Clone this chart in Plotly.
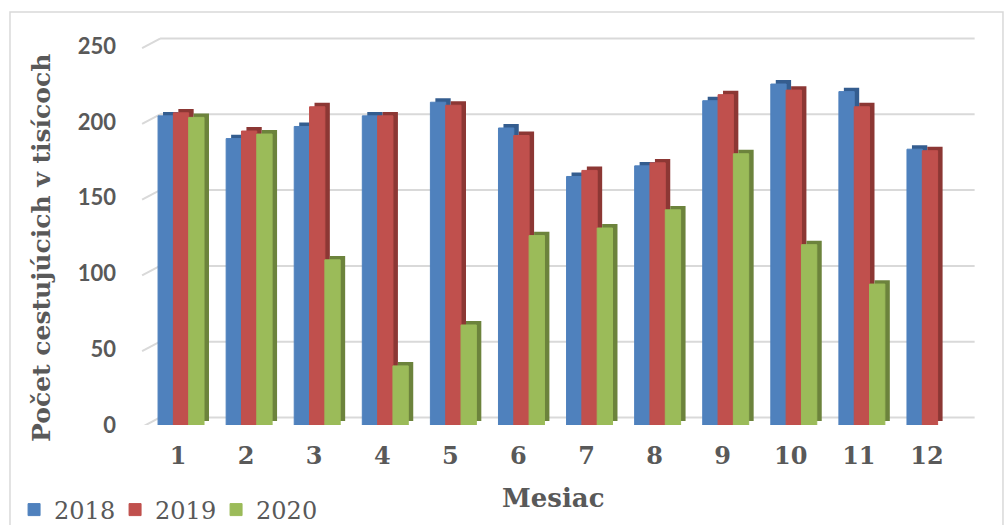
import plotly.graph_objects as go

# Passengers per month, in thousands
months = ["1", "2", "3", "4", "5", "6", "7", "8", "9", "10", "11", "12"]
years = ["2018", "2019", "2020"]
values_2018 = [204, 189, 197, 204, 213, 196, 164, 171, 214, 225, 220, 182]
values_2019 = [206, 194, 210, 204, 211, 191, 168, 173, 218, 221, 210, 181]
values_2020 = [203, 192, 109, 39, 66, 125, 130, 142, 179, 119, 93, None]
y_ticks = [0, 50, 100, 150, 200, 250]

series = [values_2018, values_2019, values_2020]
front_colors = ["#4f81bd", "#c0504d", "#9bbb59"]
side_colors = ["#345d8f", "#8c3734", "#6c833c"]

BAR_W = 0.225          # bar width in category units
DEPTH_X = 0.073        # horizontal depth of the pseudo-3D side face
DEPTH_Y = 2.6          # vertical depth of the top face (data units)
TEXT = "#595959"
GRID = "#d9d9d9"

fig = go.Figure()

# darker "depth" bars drawn first, shifted up and right
for i, vals in enumerate(series):
    off = -1.5 * BAR_W + i * BAR_W
    fig.add_trace(go.Bar(
        x=months, y=vals, base=DEPTH_Y, offset=off + DEPTH_X, width=BAR_W,
        marker=dict(color=side_colors[i], line=dict(width=0)),
        showlegend=False, hoverinfo="skip",
    ))

# front faces
for i, vals in enumerate(series):
    off = -1.5 * BAR_W + i * BAR_W
    fig.add_trace(go.Bar(
        x=months, y=vals, offset=off, width=BAR_W, name=years[i],
        marker=dict(color=front_colors[i],
                    line=dict(width=1, color=front_colors[i])),
    ))

# back-wall gridlines with a short slanted segment on the left
shapes = []
for v in y_ticks:
    shapes.append(dict(type="line", xref="paper", yref="y", layer="below",
                       x0=-0.006, y0=v - 1.3, x1=0.016, y1=v + 5,
                       line=dict(color=GRID, width=2)))
    shapes.append(dict(type="line", xref="paper", yref="y", layer="below",
                       x0=0.016, y0=v + 5, x1=1.013, y1=v + 5,
                       line=dict(color=GRID, width=2)))
# chart border
shapes.append(dict(type="rect", xref="paper", yref="paper", layer="below",
                   x0=-0.1677, y0=-0.3, x1=1.0477, y1=1.048,
                   line=dict(color=GRID, width=1.5)))

fig.update_layout(
    width=1005, height=525,
    margin=dict(l=147, r=41, t=31, b=100, autoexpand=False),
    paper_bgcolor="white", plot_bgcolor="white",
    barmode="overlay",
    shapes=shapes,
    xaxis=dict(
        type="category", range=[-0.5, 11.5],
        showgrid=False, zeroline=False, showline=False,
        ticks="", ticklabelshift=-3, ticklabelstandoff=14,
        tickfont=dict(family="DejaVu Serif", size=24, color=TEXT, weight="bold"),
    ),
    yaxis=dict(
        range=[0, 260], tickvals=y_ticks,
        showgrid=False, zeroline=False, showline=False,
        ticks="", ticklabelstandoff=30,
        tickfont=dict(family="Lato", size=22, color=TEXT, weight="bold"),
    ),
    legend=dict(
        orientation="h", xref="container", yref="container",
        x=0.014, y=1 - 510 / 525, xanchor="left", yanchor="middle",
        font=dict(family="DejaVu Serif", size=24, color=TEXT),
        itemwidth=30, entrywidth=56, traceorder="normal",
        bgcolor="rgba(0,0,0,0)",
    ),
    annotations=[
        dict(text="Počet cestujúcich v tisícoch", textangle=-90,
             xref="paper", yref="paper", x=-0.13, y=0.449,
             xanchor="center", yanchor="middle", showarrow=False,
             font=dict(family="DejaVu Serif", size=25, color=TEXT, weight="bold")),
        dict(text="Mesiac", xref="paper", yref="paper",
             x=(553 - 147) / 817, y=(425 - 498) / 394,
             xanchor="center", yanchor="middle", showarrow=False,
             font=dict(family="DejaVu Serif", size=26, color=TEXT, weight="bold")),
    ],
)

fig.write_html("out.html")
